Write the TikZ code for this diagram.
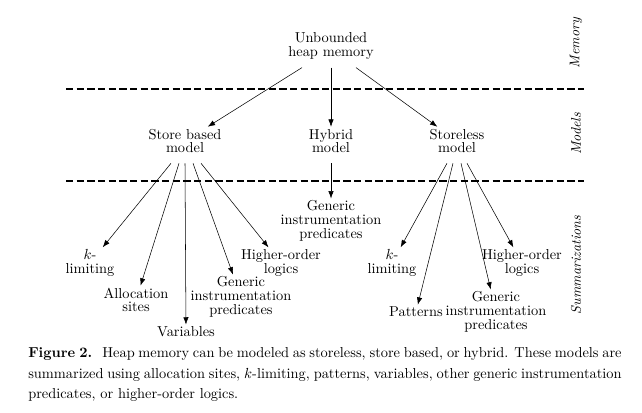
\documentclass[tikz,border=0pt]{standalone}
\usetikzlibrary{arrows.meta}
\newlength{\PixelSize}
\setlength{\PixelSize}{0.75pt}
\tikzset{
  term node/.style={align=center, inner sep=1.5pt, font=\fontsize{10.8pt}{10.3pt}\selectfont},
  layer name/.style={rotate=90, inner sep=0pt, font=\fontsize{10.5pt}{12pt}\selectfont\itshape},
  layer line/.style={dash pattern=on 5.4pt off 2.6pt, line width=0.8pt},
  caption text/.style={align=justify, inner sep=0pt, text width=445pt, font=\fontsize{10.8pt}{15.6pt}\selectfont},
}

\begin{document}
\begin{tikzpicture}[>={Latex[length=5.5pt,width=4pt]}, x=\PixelSize, y=-\PixelSize]
  \useasboundingbox (0,0) rectangle (642,412);

  % layers
  \draw[layer line] (66,89) -- (584,89);
  \draw[layer line] (66,181) -- (584,181);
  \node[layer name] (memory) at (576,43) {Memory};
  \node[layer name] (models) at (576,134) {Models};
  \node[layer name] (summ) at (576,265) {Summarizations};

  % memory and models
  \node[term node] (heap) at (331,46) {Unbounded\\heap memory};
  \node[term node] (sb) at (185,141) {Store based\\model};
  \node[term node] (hyb) at (331,141) {Hybrid\\model};
  \node[term node] (sl) at (457,141) {Storeless\\model};

  \draw[->] ([xshift=-29\PixelSize,yshift=-6\PixelSize]heap.south) -- (sb);
  \draw[->] ([yshift=-6\PixelSize]heap.south) -- (hyb);
  \draw[->] ([xshift=25\PixelSize,yshift=-6\PixelSize]heap.south) -- (sl);

  % summarizations of the store based model
  \node[term node] (lklim) at (90,263) {$k$-\\limiting};
  \node[term node] (lalloc) at (136,300) {Allocation\\sites};
  \node[term node] (lvar) at (186,332) {Variables};
  \node[term node] (lgen) at (241,297) {Generic\\instrumentation\\predicates};
  \node[term node] (lho) at (281,263) {Higher-order\\logics};

  \draw[->] ([xshift=-14\PixelSize,yshift=-8\PixelSize]sb.south) -- (lklim);
  \draw[->] ([xshift=-6\PixelSize,yshift=-8\PixelSize]sb.south) -- (lalloc);
  \draw[->] ([yshift=-8\PixelSize]sb.south) -- (lvar);
  \draw[->] ([xshift=8\PixelSize,yshift=-8\PixelSize]sb.south) -- (lgen);
  \draw[->] ([xshift=16\PixelSize,yshift=-8\PixelSize]sb.south) -- (lho);

  % summarization of the hybrid model
  \node[term node] (hgen) at (331,221) {Generic\\instrumentation\\predicates};
  \draw[->] ([yshift=-8\PixelSize]hyb.south) -- (hgen);

  % summarizations of the storeless model
  \node[term node] (rklim) at (392,263) {$k$-\\limiting};
  \node[term node] (rpat) at (416,312) {Patterns};
  \node[term node] (rgen) at (496,312) {Generic\\instrumentation\\predicates};
  \node[term node] (rho) at (522,263) {Higher-order\\logics};

  \draw[->] ([xshift=-10\PixelSize,yshift=-8\PixelSize]sl.south) -- (rklim);
  \draw[->] ([xshift=-4\PixelSize,yshift=-8\PixelSize]sl.south) -- (rpat);
  \draw[->] ([xshift=4\PixelSize,yshift=-8\PixelSize]sl.south) -- (rgen);
  \draw[->] ([xshift=10\PixelSize,yshift=-8\PixelSize]sl.south) -- (rho);

  % caption
  \node[caption text, anchor=north west] (cap) at (28,347)
    {\hyphenpenalty=10000 \textbf{Figure 2.}\hskip 0.7em Heap memory can be modeled as storeless, store based, or hybrid. These models are summarized using allocation sites, $k$-limiting, patterns, variables, other generic instrumentation predicates, or higher-order logics.\par};
\end{tikzpicture}
\end{document}
